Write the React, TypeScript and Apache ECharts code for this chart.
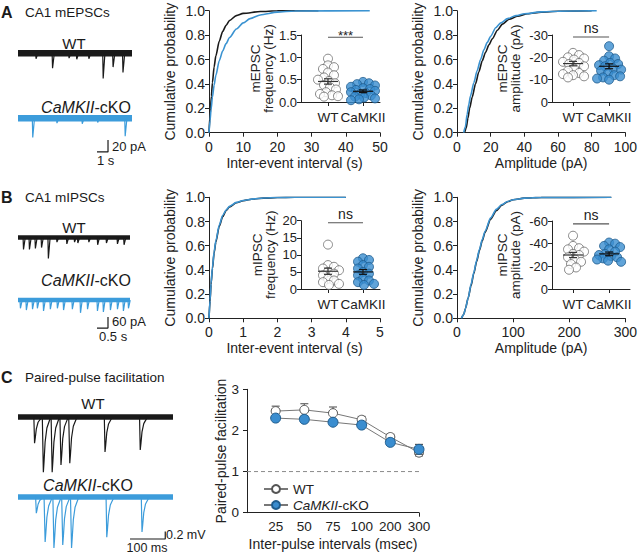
import React, { useEffect, useRef } from 'react';
import * as echarts from 'echarts';

const FONT = "'Liberation Sans', Arial, Helvetica, sans-serif";
const INK = '#1a1a1a';
const BLUE_CURVE = '#3b93d1';
const BLUE_TRACE = '#3c9cdb';
const BLUE_FILL = '#3a8dcf';
const BLUE_EDGE = '#1f5d8e';

// ---------- cumulative distributions ----------
const mepscIntervalWT = [[0, 0], [0.3, 0.14], [0.7, 0.3], [1, 0.41], [1.5, 0.54], [2, 0.63], [3, 0.75], [4, 0.83], [5, 0.88], [6, 0.92], [8, 0.96], [10, 0.978], [15, 0.993], [20, 0.999], [32, 1]];
const mepscIntervalKO = [[0, 0], [0.3, 0.1], [0.6, 0.19], [1, 0.29], [1.5, 0.39], [2, 0.47], [3, 0.59], [4, 0.67], [5, 0.73], [6, 0.78], [8, 0.85], [10, 0.9], [12, 0.935], [15, 0.965], [20, 0.988], [25, 0.998], [47, 1]];
const mepscAmpWT = [[4.5, 0], [5.5, 0.04], [6.5, 0.12], [7.5, 0.2], [9, 0.29], [11, 0.4], [13, 0.5], [15, 0.59], [17, 0.66], [19, 0.72], [21, 0.77], [24, 0.84], [27, 0.89], [31, 0.93], [36, 0.955], [42, 0.975], [50, 0.988], [60, 0.996], [80, 1]];
const mepscAmpKO = [[4, 0], [5, 0.05], [6, 0.15], [7, 0.23], [8, 0.3], [10, 0.41], [12, 0.51], [14, 0.6], [16, 0.68], [18, 0.74], [20, 0.79], [23, 0.86], [26, 0.9], [30, 0.935], [35, 0.96], [40, 0.975], [50, 0.99], [60, 0.996], [83, 1]];
const mipscIntervalWT = [[0, 0], [0.03, 0.14], [0.06, 0.28], [0.1, 0.41], [0.15, 0.54], [0.2, 0.63], [0.3, 0.76], [0.4, 0.84], [0.5, 0.89], [0.6, 0.92], [0.8, 0.955], [1, 0.972], [1.3, 0.986], [1.6, 0.993], [2, 0.998], [2.5, 1], [4, 1]];
const mipscIntervalKO = [[0, 0], [0.03, 0.15], [0.06, 0.29], [0.1, 0.42], [0.15, 0.55], [0.2, 0.64], [0.3, 0.77], [0.4, 0.85], [0.5, 0.895], [0.6, 0.925], [0.8, 0.958], [1, 0.974], [1.3, 0.987], [1.6, 0.994], [2, 0.998], [2.5, 1], [4, 1]];
const mipscAmpWT = [[8, 0], [12, 0.03], [15, 0.08], [20, 0.17], [25, 0.27], [30, 0.37], [35, 0.47], [40, 0.56], [45, 0.64], [50, 0.71], [60, 0.82], [70, 0.89], [80, 0.935], [90, 0.963], [100, 0.98], [120, 0.993], [150, 0.999], [275, 1]];
const mipscAmpKO = [[8, 0], [12, 0.03], [15, 0.08], [20, 0.17], [25, 0.28], [30, 0.38], [35, 0.48], [40, 0.57], [45, 0.65], [50, 0.72], [60, 0.83], [70, 0.9], [80, 0.94], [90, 0.965], [100, 0.98], [120, 0.993], [150, 0.999], [275, 1]];

// ---------- inset scatter (per-cell values) ----------
const mepscFreqWT = [0.97, 0.82, 0.78, 0.74, 0.66, 0.6, 0.55, 0.5, 0.47, 0.42, 0.38, 0.33, 0.28, 0.22, 0.18, 0.15, 0.13, 0.12];
const mepscFreqKO = [0.45, 0.42, 0.4, 0.37, 0.34, 0.31, 0.29, 0.27, 0.25, 0.22, 0.2, 0.18, 0.15, 0.12, 0.1, 0.08, 0.06, 0.04];
const mepscAmplWT = [-22, -21, -20, -19.5, -19, -18, -17.5, -17, -16, -15, -14, -13, -12.5, -12, -11.5, -11];
const mepscAmplKO = [-25, -20.5, -19.5, -18.5, -17.5, -17, -16.5, -16, -15, -14.5, -14, -13, -12, -11.5, -11, -10.5, -10];
const mipscFreqWT = [13, 7, 6.5, 6, 5.5, 5, 4.5, 4, 3, 2.5, 2, 1.5, 1.2];
const mipscFreqKO = [9, 8.5, 8, 7, 6.5, 6, 5, 4.5, 4, 3, 2.5, 2, 1.5, 1.2];
const mipscAmplWT = [-47, -38, -36, -35, -33, -31, -30, -28, -26, -24, -22, -19, -17];
const mipscAmplKO = [-41, -40, -38, -37, -35, -33, -31, -30, -29, -28, -27, -26, -25, -24];
// [mean, sem] WT then KO
const mepscFreqStats = [[0.46, 0.06], [0.24, 0.03]];
const mepscAmplStats = [[-17.2, 1.0], [-16, 1.1]];
const mipscFreqStats = [[5.2, 0.9], [5.0, 0.7]];
const mipscAmplStats = [[-30, 2.3], [-31, 1.6]];
const groupLabels = ['WT', 'CaMKII'];

// ---------- paired-pulse facilitation ----------
const ppfIntervals = ['25', '50', '75', '100', '200', '300'];
const ppfWT = [2.47, 2.5, 2.42, 2.26, 1.84, 1.46];
const ppfWTsem = [0.12, 0.15, 0.15, 0.08, 0.07, 0.08];
const ppfKO = [2.3, 2.27, 2.2, 2.13, 1.71, 1.54];
const ppfKOsem = [0.05, 0.05, 0.05, 0.06, 0.05, 0.12];

// ---------- example traces: [time, amplitude] ----------
const epscEventsWT = [[1.6, 9], [3.1, 25], [4.6, 8], [5.3, 10], [6.4, 9], [7.7, 42], [8.6, 23], [9.5, 32]];
const epscEventsKO = [[1.3, 32], [3.5, 8], [5.8, 9], [7.2, 7], [9.7, 30]];
const ipscEventsWT = [[0.23, 65], [0.5, 65], [0.77, 60], [1.05, 55], [1.36, 115], [1.75, 25], [2.2, 35], [2.55, 25], [2.7, 30], [3.2, 25], [3.6, 40], [4.0, 30], [4.5, 35], [4.8, 40]];
const ipscEventsKO = [[0.09, 45], [0.36, 55], [0.64, 50], [0.86, 45], [1.14, 60], [1.45, 50], [1.77, 45], [2.05, 55], [2.45, 50], [2.82, 70], [3.14, 50], [3.59, 60], [3.86, 65], [4.18, 55], [4.5, 50], [4.77, 60], [5.0, 45]];
const ppfEventsWT = [[45, 0.7], [70, 1.47], [95, 1.47], [120, 1.28], [145, 1.23], [245, 0.93], [345, 0.88]];
const ppfEventsKO = [[50, 0.43], [75, 1.2], [100, 1.36], [125, 1.28], [150, 1.36], [250, 1.07], [350, 0.93]];
const miniShapeA = [[0, 0], [0.04, -1], [0.2, 0]];
const miniShapeB = [[0, 0], [0.02, -1], [0.1, 0]];
const epspShape = [[0, 0], [2, -1], [4, -0.8], [7, -0.45], [12, -0.2], [20, -0.05], [24, 0]];

function buildTrace(events: number[][], shape: number[][], end: number) {
  const out: number[][] = [[0, 0]];
  events.forEach(([t, a]) => shape.forEach(([dt, s]) => out.push([t + dt, s * a])));
  out.push([end, 0]);
  return out;
}

// deterministic beeswarm: nearest free horizontal slot, limited to a narrow column
function swarm(values: number[], center: number, pxY: number, pxX: number, d: number, maxOff: number) {
  const placed: { x: number; y: number }[] = [];
  return values.map((v) => {
    const y = v * pxY;
    let best = 0, bestGap = -1;
    for (let k = 0; k <= maxOff * 2; k++) {
      const off = (k % 2 === 1 ? 1 : -1) * Math.ceil(k / 2);
      const gap = placed.reduce((g, p) => Math.min(g, Math.hypot(p.x - off, p.y - y)), Infinity);
      if (gap >= d) { best = off; bestGap = gap; break; }
      if (gap > bestGap) { bestGap = gap; best = off; }
    }
    placed.push({ x: best, y });
    return [center + best / pxX, v];
  });
}

const txt = { color: '#222', fontFamily: FONT };

function axisBase(gi: number, extra: any) {
  return {
    gridIndex: gi,
    type: 'value',
    axisLine: { show: true, onZero: false, lineStyle: { color: '#222', width: 1 } },
    axisTick: { show: true, length: 4, lineStyle: { color: '#222', width: 1 } },
    splitLine: { show: false },
    nameLocation: 'middle',
    nameTextStyle: { ...txt, fontSize: 14 },
    ...extra,
    axisLabel: { ...txt, fontSize: 14, margin: 5, ...(extra.axisLabel || {}) },
  };
}

function hidden(gi: number, min: number, max: number) {
  return { gridIndex: gi, type: 'value', min, max, show: false };
}

function buildOption() {
  const grids = [
    { left: 18, top: 41.3, width: 114, height: 48 },
    { left: 18, top: 106.3, width: 114, height: 48 },
    { left: 18, top: 228.35, width: 112, height: 36.6 },
    { left: 18, top: 290.85, width: 112, height: 40.3 },
    { left: 18, top: 409.5, width: 155, height: 67.5 },
    { left: 18, top: 489.5, width: 155, height: 63.75 },
    { left: 209, top: 10.7, width: 171, height: 122 },
    { left: 301, top: 35, width: 79, height: 67 },
    { left: 457, top: 10.7, width: 171, height: 122 },
    { left: 552, top: 35, width: 78, height: 67 },
    { left: 209, top: 197.3, width: 171, height: 121 },
    { left: 301, top: 220.7, width: 79, height: 68.3 },
    { left: 457, top: 197.3, width: 171, height: 121 },
    { left: 552, top: 221, width: 78, height: 68 },
    { left: 247, top: 389.3, width: 172, height: 123.4 },
  ];

  const cdfY = (gi: number) => axisBase(gi, {
    min: 0, max: 1, interval: 0.2, name: 'Cumulative probability', nameGap: 32,
    axisLabel: { formatter: (v: number) => v.toFixed(1), margin: 4 },
  });
  const cdfX = (gi: number, max: number, interval: number, name: string) => axisBase(gi, {
    min: 0, max, interval, name, nameGap: 23, axisLabel: { margin: 7 },
  });
  const insetX = (gi: number, min: number, max: number) => axisBase(gi, {
    min, max,
    axisTick: { show: true, length: 4, customValues: [1, 2], lineStyle: { color: '#222' } },
    axisLabel: { customValues: [1, 2], formatter: (v: number) => groupLabels[Math.round(v) - 1], fontSize: 13.5, margin: 8 },
  });
  const insetY = (gi: number, min: number, max: number, interval: number, name: string, gap: number, inverse: boolean, dec: number) => axisBase(gi, {
    min, max, interval, inverse, name, nameGap: gap,
    nameTextStyle: { ...txt, fontSize: 13.5, lineHeight: 13 },
    axisLabel: { fontSize: 13, margin: 4, formatter: (v: number) => v.toFixed(dec) },
  });

  const xAxes: any[] = [
    hidden(0, 0, 10.36), hidden(1, 0, 10.36), hidden(2, 0, 5.09), hidden(3, 0, 5.09), hidden(4, 0, 440), hidden(5, 0, 440),
    cdfX(6, 50, 10, 'Inter-event interval (s)'),
    insetX(7, 0.229, 2.486),
    cdfX(8, 100, 20, 'Amplitude (pA)'),
    insetX(9, 0.417, 2.58),
    cdfX(10, 5, 1, 'Inter-event interval (s)'),
    insetX(11, 0.229, 2.486),
    cdfX(12, 300, 100, 'Amplitude (pA)'),
    insetX(13, 0.417, 2.58),
    axisBase(14, {
      min: -1, max: 5, name: 'Inter-pulse intervals (msec)', nameGap: 24,
      axisTick: { show: true, length: 4, customValues: [5], lineStyle: { color: '#222' } },
      axisLabel: { customValues: [0, 1, 2, 3, 4, 5], formatter: (v: number) => ppfIntervals[Math.round(v)], fontSize: 13.5, margin: 7 },
    }),
  ];
  const yAxes: any[] = [
    hidden(0, -60, 20), hidden(1, -60, 20), hidden(2, -150, 50), hidden(3, -170, 50), hidden(4, -1.6, 0.2), hidden(5, -1.5, 0.2),
    cdfY(6),
    insetY(7, 0, 1.5, 0.5, 'mEPSC\nfrequency (Hz)', 22, false, 1),
    cdfY(8),
    insetY(9, -30, 0, 10, 'mEPSC\namplitude (pA)', 30, true, 0),
    cdfY(10),
    insetY(11, 0, 20, 5, 'mIPSC\nfrequency (Hz)', 24, false, 0),
    cdfY(12),
    insetY(13, -60, 0, 20, 'mIPSC\namplitude (pA)', 30, true, 0),
    axisBase(14, { min: 0, max: 3, interval: 1, name: 'Paired-pulse facilitation', nameGap: 19, axisLabel: { fontSize: 13.5, margin: 8 } }),
  ];

  const series: any[] = [];
  const lineS = (gi: number, data: number[][], color: string, width: number, extra: any = {}) => ({
    type: 'line', xAxisIndex: gi, yAxisIndex: gi, data, showSymbol: false, symbol: 'none', silent: true,
    lineStyle: { color, width, cap: 'butt' }, ...extra,
  });

  // traces
  const traceDefs = [
    [0, epscEventsWT, miniShapeA, 10.36, INK, 6.5],
    [1, epscEventsKO, miniShapeA, 10.36, BLUE_TRACE, 6.5],
    [2, ipscEventsWT, miniShapeB, 5.09, INK, 4.5],
    [3, ipscEventsKO, miniShapeB, 5.09, BLUE_TRACE, 4.5],
    [4, ppfEventsWT, epspShape, 440, INK, 5.5],
    [5, ppfEventsKO, epspShape, 440, BLUE_TRACE, 5.5],
  ] as any[];
  traceDefs.forEach(([gi, ev, shape, end, color, band]) => {
    series.push(lineS(gi, [[0, 0], [end, 0]], color, band));
    series.push(lineS(gi, buildTrace(ev, shape, end), color, 1.2));
  });
  // scale bars (in trace units)
  series.push(lineS(1, [[7.18, -56], [8.18, -56], [8.18, -36]], INK, 1.2));
  series.push(lineS(3, [[3.59, -153], [4.09, -153], [4.09, -93]], INK, 1.2));
  series.push(lineS(5, [[318, -1.12], [418, -1.12], [418, -0.92]], INK, 1.2));

  // CDFs
  const cdf = (gi: number, wt: number[][], ko: number[][]) => {
    series.push(lineS(gi, wt, INK, 1.6, { smooth: 0.25, smoothMonotone: 'x' }));
    series.push(lineS(gi, ko, BLUE_CURVE, 1.6, { smooth: 0.25, smoothMonotone: 'x' }));
  };
  cdf(6, mepscIntervalWT, mepscIntervalKO);
  cdf(8, mepscAmpWT, mepscAmpKO);
  cdf(10, mipscIntervalWT, mipscIntervalKO);
  cdf(12, mipscAmpWT, mipscAmpKO);

  // insets
  const inset = (gi: number, wt: number[], ko: number[], stats: number[][], pxY: number, pxX: number, level: number, sig: string) => {
    series.push({
      type: 'scatter', xAxisIndex: gi, yAxisIndex: gi, data: swarm(wt, 1, pxY, pxX, 6, 12), symbolSize: 9, silent: true, z: 3,
      itemStyle: { color: '#fff', borderColor: '#6b6b6b', borderWidth: 1 },
    });
    series.push({
      type: 'scatter', xAxisIndex: gi, yAxisIndex: gi, data: swarm(ko, 2, pxY, pxX, 6, 12), symbolSize: 9, silent: true, z: 3,
      itemStyle: { color: BLUE_FILL, borderColor: BLUE_EDGE, borderWidth: 1 },
    });
    series.push({
      type: 'custom', xAxisIndex: gi, yAxisIndex: gi, z: 6, silent: true, clip: false,
      data: stats.map((s, i) => [i + 1, s[0], s[1]]), encode: { x: 0, y: 1 },
      renderItem: (params: any, api: any) => {
        const x = api.value(0), m = api.value(1), s = api.value(2);
        const c = api.coord([x, m]);
        const t = api.coord([x, m + s]);
        const b = api.coord([x, m - s]);
        const style = { stroke: params.dataIndex === 0 ? '#333' : '#111', lineWidth: 1.2 };
        return {
          type: 'group', children: [
            { type: 'line', shape: { x1: c[0] - 10, y1: c[1], x2: c[0] + 10, y2: c[1] }, style },
            { type: 'line', shape: { x1: c[0], y1: t[1], x2: c[0], y2: b[1] }, style },
            { type: 'line', shape: { x1: c[0] - 4, y1: t[1], x2: c[0] + 4, y2: t[1] }, style },
            { type: 'line', shape: { x1: c[0] - 4, y1: b[1], x2: c[0] + 4, y2: b[1] }, style },
          ],
        };
      },
    });
    series.push({
      type: 'custom', xAxisIndex: gi, yAxisIndex: gi, z: 6, silent: true, clip: false,
      data: [[1, level]], encode: { x: 0, y: 1 },
      renderItem: (params: any, api: any) => {
        const a = api.coord([1, api.value(1)]);
        const b = api.coord([2, api.value(1)]);
        const star = sig.indexOf('*') >= 0;
        return {
          type: 'group', children: [
            { type: 'line', shape: { x1: a[0], y1: a[1], x2: b[0], y2: b[1] }, style: { stroke: '#555', lineWidth: 1.2 } },
            {
              type: 'text', x: (a[0] + b[0]) / 2, y: a[1] - 2,
              style: { text: sig, align: 'center', verticalAlign: star ? 'middle' : 'bottom', fontSize: star ? 13 : 14, fontFamily: FONT, fill: '#222' },
            },
          ],
        };
      },
    });
  };
  inset(7, mepscFreqWT, mepscFreqKO, mepscFreqStats, 67 / 1.5, 35, 1.45, '***');
  inset(9, mepscAmplWT, mepscAmplKO, mepscAmplStats, 67 / 30, 36, -29.1, 'ns');
  inset(11, mipscFreqWT, mipscFreqKO, mipscFreqStats, 68.3 / 20, 35, 19.4, 'ns');
  inset(13, mipscAmplWT, mipscAmplKO, mipscAmplStats, 68 / 60, 36, -57.5, 'ns');

  // PPF
  series.push(lineS(14, [[-1, 1], [5, 1]], '#8a8a8a', 1, { lineStyle: { color: '#8a8a8a', width: 1, type: [4, 3] } }));
  const errS = (vals: number[], sems: number[], color: string, z: number) => ({
    type: 'custom', xAxisIndex: 14, yAxisIndex: 14, z, silent: true,
    data: vals.map((v, i) => [i, v, sems[i]]), encode: { x: 0, y: 1 },
    renderItem: (params: any, api: any) => {
      const x = api.value(0), m = api.value(1), s = api.value(2);
      const t = api.coord([x, m + s]);
      const b = api.coord([x, m - s]);
      const style = { stroke: color, lineWidth: 1.2 };
      return {
        type: 'group', children: [
          { type: 'line', shape: { x1: t[0], y1: t[1], x2: b[0], y2: b[1] }, style },
          { type: 'line', shape: { x1: t[0] - 4, y1: t[1], x2: t[0] + 4, y2: t[1] }, style },
          { type: 'line', shape: { x1: b[0] - 4, y1: b[1], x2: b[0] + 4, y2: b[1] }, style },
        ],
      };
    },
  });
  series.push(errS(ppfWT, ppfWTsem, '#666', 2));
  series.push({
    type: 'line', name: 'WT', xAxisIndex: 14, yAxisIndex: 14, z: 3, silent: true,
    data: ppfWT.map((v, i) => [i, v]), symbol: 'circle', symbolSize: 9, showSymbol: true,
    lineStyle: { color: '#777', width: 1 }, itemStyle: { color: '#fff', borderColor: '#555', borderWidth: 1 },
  });
  series.push(errS(ppfKO, ppfKOsem, '#555', 4));
  series.push({
    type: 'line', name: 'CaMKII-cKO', xAxisIndex: 14, yAxisIndex: 14, z: 5, silent: true,
    data: ppfKO.map((v, i) => [i, v]), symbol: 'circle', symbolSize: 10, showSymbol: true,
    lineStyle: { color: '#777', width: 1 }, itemStyle: { color: BLUE_FILL, borderColor: BLUE_EDGE, borderWidth: 1 },
  });

  const T = (x: number, y: number, text: string, size: number, extra: any = {}) => ({
    type: 'text', x, y, silent: true,
    style: { text, fontSize: size, fontFamily: FONT, fill: INK, align: 'left', verticalAlign: 'middle', ...extra },
  });
  const italicRich = (size: number) => ({ i: { fontStyle: 'italic', fontSize: size, fontFamily: FONT, fill: INK, color: INK } });
  const graphic = [
    T(1, 12, 'A', 16, { fontWeight: 'bold' }), T(25, 12, 'CA1 mEPSCs', 13.5),
    T(1, 197, 'B', 16, { fontWeight: 'bold' }), T(25, 197, 'CA1 mIPSCs', 13.5),
    T(1, 377, 'C', 16, { fontWeight: 'bold' }), T(25, 377, 'Paired-pulse facilitation', 13.5),
    T(74, 43, 'WT', 15, { align: 'center' }),
    T(86, 107, '{i|CaMKII}-cKO', 16, { align: 'center', rich: italicRich(16) }),
    T(74, 227, 'WT', 15, { align: 'center' }),
    T(86, 280, '{i|CaMKII}-cKO', 16, { align: 'center', rich: italicRich(16) }),
    T(93, 403, 'WT', 15, { align: 'center' }),
    T(88, 485, '{i|CaMKII}-cKO', 16, { align: 'center', rich: italicRich(16) }),
    T(112, 146, '20 pA', 13), T(97, 160, '1 s', 13),
    T(112, 321, '60 pA', 13), T(99, 336, '0.5 s', 13),
    T(166, 535, '0.2 mV', 12.5), T(147, 548, '100 ms', 12.5, { align: 'center' }),
  ];

  return {
    animation: false,
    backgroundColor: '#fff',
    textStyle: { fontFamily: FONT },
    grid: grids.map((g) => ({ ...g, containLabel: false })),
    xAxis: xAxes,
    yAxis: yAxes,
    legend: {
      left: 258, top: 477, orient: 'vertical', itemGap: 2, itemWidth: 24, itemHeight: 10,
      data: ['WT', 'CaMKII-cKO'], selectedMode: false,
      formatter: (n: string) => (n === 'WT' ? 'WT' : '{i|CaMKII}-cKO'),
      textStyle: { ...txt, fontSize: 13.5, rich: { i: { fontStyle: 'italic', fontSize: 13.5, fontFamily: FONT, color: '#222' } } },
    },
    series,
    graphic,
  };
}

export default function App() {
  const ref = useRef<HTMLDivElement>(null);
  useEffect(() => {
    document.body.style.margin = '0';
    const chart = echarts.init(ref.current!, undefined, { renderer: 'svg' });
    chart.setOption(buildOption() as any);
    return () => chart.dispose();
  }, []);
  return <div ref={ref} style={{ width: 640, height: 554, background: '#fff' }} />;
}
